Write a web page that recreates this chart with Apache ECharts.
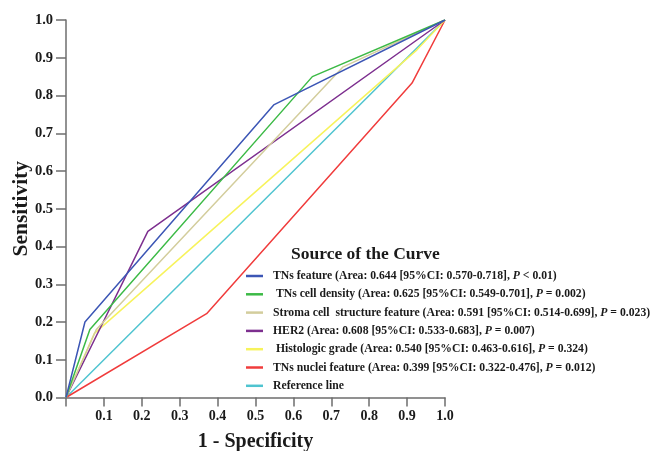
<!DOCTYPE html>
<html>
<head>
<meta charset="utf-8">
<script src="https://cdn.jsdelivr.net/npm/echarts@6/dist/echarts.min.js"></script>
<style>
html,body{margin:0;padding:0;background:#fff;}
#main{width:651px;height:451px;}
</style>
</head>
<body>
<div id="main"></div>
<script>
// ROC 曲线数据 (1 - Specificity, Sensitivity)
var tnsFeatureX = [0, 0.05, 0.548, 1];
var tnsFeatureY = [0, 0.20, 0.775, 1];
var cellDensityX = [0, 0.063, 0.65, 1];
var cellDensityY = [0, 0.18, 0.85, 1];
var stromaX = [0, 0.08, 0.73, 1];
var stromaY = [0, 0.18, 0.875, 1];
var her2X = [0, 0.216, 1];
var her2Y = [0, 0.44, 1];
var gradeX = [0, 0.075, 0.926, 1];
var gradeY = [0, 0.17, 0.921, 1];
var nucleiX = [0, 0.371, 0.913, 1];
var nucleiY = [0, 0.222, 0.833, 1];
var refX = [0, 1];
var refY = [0, 1];

var seriesNames = [
    'TNs feature (Area: 0.644 [95%CI: 0.570-0.718], P < 0.01)',
    ' TNs cell density (Area: 0.625 [95%CI: 0.549-0.701], P = 0.002)',
    'Stroma cell  structure feature (Area: 0.591 [95%CI: 0.514-0.699], P = 0.023)',
    'HER2 (Area: 0.608 [95%CI: 0.533-0.683], P = 0.007)',
    ' Histologic grade (Area: 0.540 [95%CI: 0.463-0.616], P = 0.324)',
    'TNs nuclei feature (Area: 0.399 [95%CI: 0.322-0.476], P = 0.012)',
    'Reference line'
];
var seriesX = [tnsFeatureX, cellDensityX, stromaX, her2X, gradeX, nucleiX, refX];
var seriesY = [tnsFeatureY, cellDensityY, stromaY, her2Y, gradeY, nucleiY, refY];
var lineColors = ['#3c56b5', '#3cba46', '#d3cd9c', '#7d2f8f', '#f7f35c', '#f03c3c', '#4fc4d0'];

var serifFont = '"Liberation Serif", "Times New Roman", serif';

var myChart = echarts.init(document.getElementById('main'));
var option = {
    animation: false,
    title: {
        text: 'Source of the Curve',
        left: 286,
        top: 240,
        textStyle: {
            fontFamily: serifFont,
            fontWeight: 'bold',
            fontSize: 17.5,
            color: '#1a1a1a'
        }
    },
    legend: {
        orient: 'vertical',
        left: 241,
        top: 264,
        itemGap: 4.3,
        itemWidth: 17,
        itemHeight: 2.5,
        icon: 'rect',
        data: seriesNames,
        formatter: function(name) {
            return name.replace(', P ', ', {i|P} ');
        },
        textStyle: {
            fontFamily: serifFont,
            fontWeight: 'bold',
            fontSize: 11.7,
            lineHeight: 14,
            color: '#1a1a1a',
            padding: [0, 0, 0, 5],
            rich: {
                i: {
                    fontFamily: serifFont,
                    fontWeight: 'bold',
                    fontStyle: 'italic',
                    fontSize: 11.7,
                    color: '#1a1a1a'
                }
            }
        }
    },
    grid: {
        left: 66,
        right: 206,
        top: 20,
        bottom: 53.5,
        containLabel: false,
        outerBoundsMode: 'none'
    },
    xAxis: {
        type: 'value',
        min: 0,
        max: 1,
        interval: 0.1,
        name: '1 - Specificity',
        nameLocation: 'middle',
        nameGap: 34,
        nameTextStyle: {
            fontFamily: serifFont,
            fontWeight: 'bold',
            fontSize: 20,
            color: '#1a1a1a'
        },
        splitLine: { show: false },
        axisLine: { show: true, lineStyle: { color: '#6e6e6e', width: 1.5 } },
        axisTick: { show: true, length: 9, lineStyle: { color: '#6e6e6e', width: 1.5 } },
        axisLabel: {
            margin: 12,
            fontFamily: serifFont,
            fontWeight: 'bold',
            fontSize: 14,
            color: '#1a1a1a',
            formatter: function(v) {
                return v === 0 ? '' : v.toFixed(1);
            }
        }
    },
    yAxis: {
        type: 'value',
        min: 0,
        max: 1,
        interval: 0.1,
        name: 'Sensitivity',
        nameLocation: 'middle',
        nameGap: 34,
        nameMoveOverlap: false,
        nameTextStyle: {
            fontFamily: serifFont,
            fontWeight: 'bold',
            fontSize: 21.5,
            color: '#1a1a1a'
        },
        splitLine: { show: false },
        axisLine: { show: true, lineStyle: { color: '#6e6e6e', width: 1.5 } },
        axisTick: { show: true, length: 10, lineStyle: { color: '#6e6e6e', width: 1.5 } },
        axisLabel: {
            margin: 13,
            fontFamily: serifFont,
            fontWeight: 'bold',
            fontSize: 14.5,
            color: '#1a1a1a',
            formatter: function(v) {
                return v.toFixed(1);
            }
        }
    },
    series: function() {
        var serie = [];
        for (var i = 0; i < seriesNames.length; i++) {
            var pts = [];
            for (var j = 0; j < seriesX[i].length; j++) {
                pts.push([seriesX[i][j], seriesY[i][j]]);
            }
            serie.push({
                name: seriesNames[i],
                type: 'line',
                data: pts,
                symbol: 'none',
                z: 10 - i,
                itemStyle: { color: lineColors[i] },
                lineStyle: { color: lineColors[i], width: 1.5 }
            });
        }
        return serie;
    }()
};
myChart.setOption(option);
</script>
</body>
</html>
